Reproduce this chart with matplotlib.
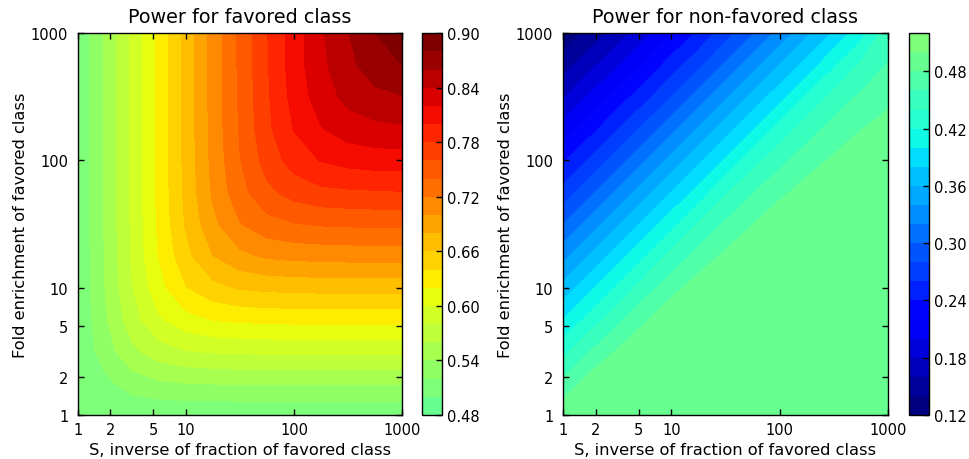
import numpy as np
import matplotlib
matplotlib.use("Agg")
import matplotlib.pyplot as plt
from matplotlib.colors import Normalize
from matplotlib.ticker import FormatStrFormatter

# grid nodes (quarter decades)
s_vals = [1, 1.78, 3.16, 5.62, 10, 17.8, 31.6, 56.2, 100, 178, 316, 562, 1000]
f_vals = [1, 1.78, 3.16, 5.62, 10, 17.8, 31.6, 56.2, 100, 178, 316, 562, 1000]

# rows = fold enrichment (f_vals), columns = S (s_vals)
power_fav = [
    [0.503, 0.503, 0.503, 0.503, 0.503, 0.503, 0.503, 0.503, 0.503, 0.503, 0.503, 0.503, 0.503],
    [0.503, 0.515, 0.530, 0.537, 0.540, 0.541, 0.542, 0.542, 0.542, 0.542, 0.542, 0.542, 0.542],
    [0.503, 0.530, 0.555, 0.571, 0.579, 0.582, 0.583, 0.584, 0.584, 0.584, 0.584, 0.584, 0.584],
    [0.503, 0.537, 0.571, 0.597, 0.613, 0.621, 0.624, 0.625, 0.626, 0.626, 0.626, 0.626, 0.626],
    [0.503, 0.540, 0.579, 0.613, 0.639, 0.654, 0.662, 0.665, 0.666, 0.667, 0.667, 0.667, 0.667],
    [0.503, 0.541, 0.582, 0.621, 0.654, 0.680, 0.695, 0.703, 0.706, 0.707, 0.708, 0.708, 0.708],
    [0.503, 0.542, 0.583, 0.624, 0.662, 0.695, 0.719, 0.733, 0.739, 0.742, 0.743, 0.744, 0.744],
    [0.503, 0.542, 0.584, 0.625, 0.665, 0.703, 0.733, 0.755, 0.768, 0.775, 0.777, 0.778, 0.779],
    [0.503, 0.542, 0.584, 0.626, 0.666, 0.706, 0.739, 0.768, 0.789, 0.801, 0.807, 0.810, 0.810],
    [0.503, 0.542, 0.584, 0.626, 0.667, 0.707, 0.742, 0.775, 0.801, 0.819, 0.830, 0.835, 0.837],
    [0.503, 0.542, 0.584, 0.626, 0.667, 0.708, 0.743, 0.777, 0.807, 0.830, 0.846, 0.855, 0.859],
    [0.503, 0.542, 0.584, 0.626, 0.667, 0.708, 0.744, 0.778, 0.810, 0.835, 0.855, 0.870, 0.880],
    [0.503, 0.542, 0.584, 0.626, 0.667, 0.708, 0.744, 0.779, 0.810, 0.837, 0.859, 0.880, 0.896],
]

power_nonfav = [
    [0.496, 0.4975, 0.4975, 0.4975, 0.4975, 0.4975, 0.4975, 0.4975, 0.4975, 0.4975, 0.4975, 0.4975, 0.4975],
    [0.465, 0.490, 0.4975, 0.4975, 0.4975, 0.4975, 0.4975, 0.4975, 0.4975, 0.4975, 0.4975, 0.4975, 0.4975],
    [0.433, 0.460, 0.482, 0.4975, 0.4975, 0.4975, 0.4975, 0.4975, 0.4975, 0.4975, 0.4975, 0.4975, 0.4975],
    [0.400, 0.428, 0.454, 0.477, 0.497, 0.4975, 0.4975, 0.4975, 0.4975, 0.4975, 0.4975, 0.4975, 0.4975],
    [0.367, 0.395, 0.423, 0.450, 0.472, 0.4905, 0.4975, 0.4975, 0.4975, 0.4975, 0.4975, 0.4975, 0.4975],
    [0.333, 0.362, 0.390, 0.418, 0.446, 0.467, 0.484, 0.4975, 0.4975, 0.4975, 0.4975, 0.4975, 0.4975],
    [0.300, 0.328, 0.357, 0.385, 0.413, 0.441, 0.463, 0.4795, 0.495, 0.4975, 0.4975, 0.4975, 0.4975],
    [0.268, 0.295, 0.323, 0.352, 0.380, 0.408, 0.437, 0.459, 0.475, 0.4885, 0.4975, 0.4975, 0.4975],
    [0.237, 0.263, 0.290, 0.318, 0.347, 0.375, 0.403, 0.432, 0.454, 0.471, 0.483, 0.494, 0.4975],
    [0.207, 0.232, 0.258, 0.285, 0.313, 0.342, 0.370, 0.398, 0.427, 0.4505, 0.467, 0.479, 0.488],
    [0.178, 0.203, 0.228, 0.253, 0.280, 0.308, 0.337, 0.365, 0.393, 0.422, 0.447, 0.4635, 0.4745],
    [0.151, 0.174, 0.198, 0.223, 0.249, 0.275, 0.303, 0.332, 0.360, 0.388, 0.417, 0.443, 0.461],
    [0.125, 0.147, 0.169, 0.194, 0.219, 0.244, 0.271, 0.298, 0.327, 0.355, 0.383, 0.412, 0.453],
]

tick_vals = [1, 2, 5, 10, 100, 1000]
tick_labels = ["1", "2", "5", "10", "100", "1000"]
levels_fav = np.linspace(0.48, 0.90, 22)
levels_nonfav = np.linspace(0.12, 0.52, 21)
cbar_ticks_fav = [0.48, 0.54, 0.60, 0.66, 0.72, 0.78, 0.84, 0.90]
cbar_ticks_nonfav = [0.12, 0.18, 0.24, 0.30, 0.36, 0.42, 0.48]

titles = ["Power for favored class", "Power for non-favored class"]
xlabel = "S, inverse of fraction of favored class"
ylabel = "Fold enrichment of favored class"

norm = Normalize(vmin=0.13, vmax=0.89)
# contour in log10 space so the bands follow the log grid
LS, LF = np.meshgrid(np.log10(s_vals), np.log10(f_vals))

fig = plt.figure(figsize=(9.7, 4.6), dpi=100)
ax_pos = [[0.0804, 0.0957, 0.334, 0.830], [0.5804, 0.0957, 0.335, 0.830]]
cb_pos = [[0.435, 0.0957, 0.0206, 0.830], [0.937, 0.0957, 0.0206, 0.830]]

panels = [(power_fav, levels_fav, cbar_ticks_fav),
          (power_nonfav, levels_nonfav, cbar_ticks_nonfav)]

for k, (z, levels, cticks) in enumerate(panels):
    ax = fig.add_axes(ax_pos[k])
    cs = ax.contourf(LS, LF, np.array(z), levels=levels, cmap="jet", norm=norm)
    ax.set_xlim(0, 3)
    ax.set_ylim(0, 3)
    ax.set_xticks(np.log10(tick_vals))
    ax.set_xticklabels(tick_labels)
    ax.set_yticks(np.log10(tick_vals))
    ax.set_yticklabels(tick_labels)
    ax.tick_params(direction="in", top=True, right=True, length=4,
                   width=1, labelsize=10.5)
    ax.tick_params(axis="x", pad=5)
    ax.tick_params(axis="y", pad=7)
    for sp in ax.spines.values():
        sp.set_linewidth(1)
    ax.set_title(titles[k], fontsize=13.8, pad=8)
    ax.set_xlabel(xlabel, fontsize=11.7, labelpad=4)
    ax.set_ylabel(ylabel, fontsize=11.7, labelpad=2)

    cax = fig.add_axes(cb_pos[k])
    cb = fig.colorbar(cs, cax=cax, ticks=cticks)
    cb.ax.yaxis.set_major_formatter(FormatStrFormatter("%.2f"))
    cb.ax.tick_params(direction="in", length=4, width=1, labelsize=10.5, pad=4)
    cb.outline.set_linewidth(1)

fig.savefig("out.png", dpi=100)
